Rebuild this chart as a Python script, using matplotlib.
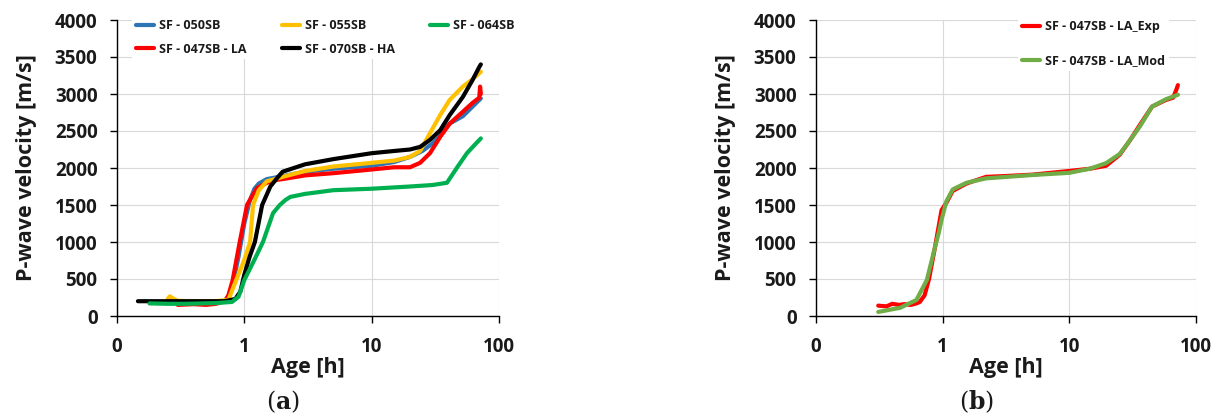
import matplotlib
matplotlib.use("Agg")
import matplotlib.pyplot as plt
from matplotlib.ticker import FixedLocator, FixedFormatter, NullLocator

plt.rcParams['font.family'] = ['Open Sans', 'DejaVu Sans']
plt.rcParams['mathtext.fontset'] = 'dejavuserif'

# ---- data: age [h] and P-wave velocity [m/s] ----
t_050 = [0.25, 0.5, 0.72, 0.8, 0.9, 1.0, 1.1, 1.2, 1.3, 1.5, 2.0, 3.0, 5.0, 10, 15, 20, 25, 30, 35, 41, 52, 62, 72]
v_050 = [200, 195, 200, 380, 800, 1250, 1550, 1720, 1790, 1850, 1890, 1950, 1990, 2030, 2080, 2150, 2230, 2330, 2450, 2600, 2700, 2830, 2940]

t_055 = [0.25, 0.26, 0.28, 0.3, 0.4, 0.6, 0.75, 0.87, 1.0, 1.11, 1.17, 1.3, 1.5, 2.0, 3.0, 5.0, 10, 15, 20, 24, 28.7, 34.5, 41, 52, 62, 72]
v_055 = [230, 265, 230, 205, 200, 200, 220, 500, 760, 1000, 1500, 1700, 1820, 1880, 1960, 2020, 2070, 2100, 2150, 2230, 2470, 2715, 2920, 3100, 3200, 3300]

t_064 = [0.18, 0.25, 0.35, 0.6, 0.8, 0.9, 1.0, 1.2, 1.4, 1.68, 1.9, 2.1, 2.3, 3.0, 5.0, 10, 20, 30, 39, 47, 56, 65, 72]
v_064 = [170, 165, 165, 175, 190, 260, 486, 760, 1000, 1390, 1500, 1567, 1610, 1650, 1700, 1720, 1750, 1770, 1800, 2010, 2200, 2320, 2400]

t_047 = [0.3, 0.4, 0.5, 0.6, 0.7, 0.75, 0.81, 0.92, 1.05, 1.15, 1.26, 1.5, 1.8, 2.0, 3.0, 5.0, 10, 15, 20, 24, 28.7, 34.5, 41, 52, 62, 70, 71, 72]
v_047 = [150, 160, 150, 165, 200, 280, 486, 1000, 1500, 1620, 1730, 1800, 1840, 1850, 1900, 1930, 1980, 2010, 2010, 2070, 2200, 2420, 2600, 2760, 2880, 2950, 3100, 3000]

t_070 = [0.146, 0.3, 0.5, 0.7, 0.85, 0.93, 1.0, 1.1, 1.21, 1.38, 1.6, 1.84, 2.0, 3.0, 5.0, 10, 15, 20, 24, 28.7, 34.5, 41, 52, 62, 70, 72]
v_070 = [200, 200, 200, 200, 230, 330, 560, 800, 1000, 1500, 1750, 1880, 1950, 2050, 2120, 2200, 2230, 2250, 2285, 2380, 2510, 2715, 2960, 3190, 3365, 3400]

t_exp = [0.31, 0.36, 0.4, 0.45, 0.5, 0.56, 0.62, 0.66, 0.72, 0.78, 0.87, 0.98, 1.07, 1.2, 1.54, 2.2, 3.0, 5.1, 10, 14.5, 19.5, 25, 30, 36, 45, 58, 66, 70, 72]
v_exp = [140, 130, 165, 150, 160, 150, 170, 190, 280, 500, 930, 1430, 1530, 1690, 1790, 1880, 1890, 1910, 1960, 1990, 2030, 2180, 2370, 2580, 2830, 2920, 2950, 3060, 3120]

t_mod = [0.31, 0.46, 0.62, 0.75, 0.87, 0.93, 0.98, 1.07, 1.2, 1.54, 2.2, 5.1, 10, 14.5, 19.5, 25, 30, 36, 45, 58, 72]
v_mod = [55, 110, 216, 486, 930, 1120, 1300, 1550, 1710, 1800, 1860, 1905, 1935, 1990, 2065, 2190, 2370, 2560, 2830, 2930, 2990]

series_a = [
    ("SF - 050SB", t_050, v_050, "#2E75B6"),
    ("SF - 047SB - LA", t_047, v_047, "#FF0000"),
    ("SF - 055SB", t_055, v_055, "#FFC000"),
    ("SF - 070SB - HA", t_070, v_070, "#000000"),
    ("SF - 064SB", t_064, v_064, "#00B050"),
]
series_b = [
    ("SF - 047SB - LA_Exp", t_exp, v_exp, "#FF0000"),
    ("SF - 047SB - LA_Mod", t_mod, v_mod, "#70AD47"),
]

x_ticks = [0.1, 1, 10, 100]
x_ticklabels = ["0", "1", "10", "100"]
y_ticks = list(range(0, 4001, 500))

W, H = 1220, 419
fig = plt.figure(figsize=(W / 100, H / 100), dpi=100)

TXT = "#1a1a1a"


def style_axes(ax):
    ax.set_xscale("log")
    ax.set_xlim(0.1, 100)
    ax.set_ylim(0, 4000)
    ax.xaxis.set_major_locator(FixedLocator(x_ticks))
    ax.xaxis.set_major_formatter(FixedFormatter(x_ticklabels))
    ax.xaxis.set_minor_locator(NullLocator())
    ax.set_yticks(y_ticks)
    for s in ("top", "right"):
        ax.spines[s].set_visible(False)
    for s in ("left", "bottom"):
        ax.spines[s].set_color("#000000")
        ax.spines[s].set_linewidth(1.0)
    ax.grid(True, color="#d9d9d9", linewidth=0.8)
    ax.set_axisbelow(True)
    ax.tick_params(axis="both", direction="out", length=5, width=1.0, color="#000000",
                   labelsize=13.5, labelcolor=TXT)
    ax.tick_params(axis="y", pad=9)
    ax.tick_params(axis="x", pad=10)
    for lab in ax.get_xticklabels() + ax.get_yticklabels():
        lab.set_fontweight("bold")
    ax.set_xlabel("Age [h]", fontsize=15.5, fontweight="bold", color=TXT, labelpad=0)
    ax.set_ylabel("P-wave velocity [m/s]", fontsize=15.5, fontweight="bold", color=TXT, labelpad=13)


ax1 = fig.add_axes([117 / W, 1 - 316 / H, (499 - 117) / W, (316 - 20) / H])
ax2 = fig.add_axes([816 / W, 1 - 316 / H, (1196 - 816) / W, (316 - 20) / H])

for name, t, v, c in series_a:
    ax1.plot(t, v, color=c, lw=3.0, label=name, solid_capstyle="round", solid_joinstyle="round")
for name, t, v, c in series_b:
    ax2.plot(t, v, color=c, lw=3.0, label=name, solid_capstyle="round", solid_joinstyle="round")

for ax in (ax1, ax2):
    style_axes(ax)

leg_kw = dict(bbox_transform=fig.transFigure, frameon=True, fancybox=False,
              edgecolor="none", facecolor="white", framealpha=1.0,
              prop={"weight": "bold", "size": 9}, handlelength=1.45, handletextpad=0.4,
              borderpad=0.3)

leg1 = ax1.legend(ncol=3, loc="upper left", bbox_to_anchor=(126 / W, 1 - 9 / H),
                  columnspacing=2.8, labelspacing=0.85, **leg_kw)
for txt in leg1.get_texts():
    txt.set_color(TXT)

leg2 = ax2.legend(ncol=1, loc="upper left", bbox_to_anchor=(1012 / W, 1 - 10 / H),
                  labelspacing=1.7, **leg_kw)
for txt in leg2.get_texts():
    txt.set_color(TXT)

fig.text(283 / W, 1 - 402 / H, r"($\mathbf{a}$)", ha="center", va="center",
         fontsize=17, family="DejaVu Serif", color=TXT)
fig.text(977 / W, 1 - 402 / H, r"($\mathbf{b}$)", ha="center", va="center",
         fontsize=17, family="DejaVu Serif", color=TXT)

fig.savefig("out.png", dpi=100)
